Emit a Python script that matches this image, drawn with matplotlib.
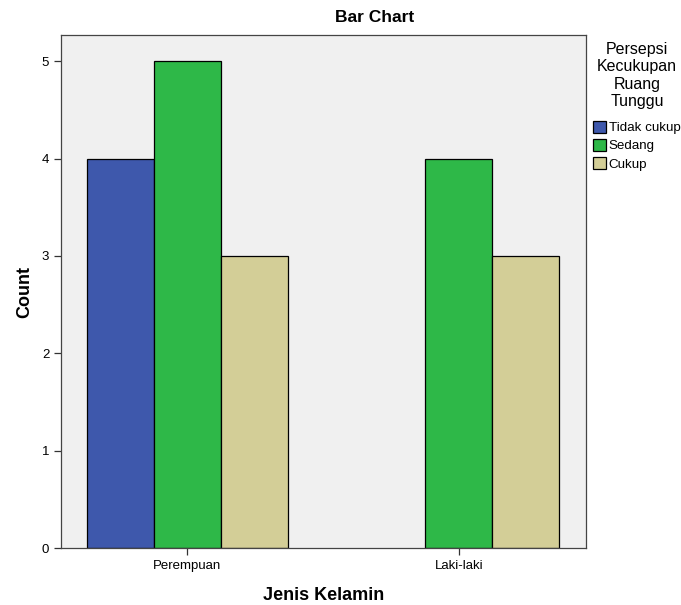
import numpy as np
import matplotlib.pyplot as plt
from matplotlib.patches import Patch

plt.rcParams["font.family"] = ["Liberation Sans", "DejaVu Sans"]

# data
genders = ["Perempuan", "Laki-laki"]
categories = ["Tidak cukup", "Sedang", "Cukup"]
tidak_cukup = [4, 0]
sedang = [5, 4]
cukup = [3, 3]
colors = ["#3E58AC", "#2EB848", "#D3CE97"]

fig = plt.figure(figsize=(6.81, 6.05), dpi=100)
ax = fig.add_axes([0.0896, 0.0942, 0.771, 0.8479])
ax.set_facecolor("#F0F0F0")

x = np.arange(len(genders))
width = 0.247
for i, (vals, col) in enumerate(zip([tidak_cukup, sedang, cukup], colors)):
    for xi, v in zip(x, vals):
        if v > 0:
            ax.bar(xi + (i - 1) * width, v, width, color=col,
                   edgecolor="black", linewidth=0.9, zorder=2)

ax.set_xlim(-0.465, 1.469)
ax.set_ylim(0, 5.27)
ax.set_yticks(range(6))
ax.set_xticks(x)
ax.set_xticklabels(genders, fontsize=9.5)
ax.tick_params(axis="y", labelsize=9.5, length=5, width=0.9, color="#333333")
ax.tick_params(axis="x", length=5, width=0.9, color="#333333")
for s in ax.spines.values():
    s.set_color("#444444")
    s.set_linewidth(0.9)

ax.set_xlabel("Jenis Kelamin", fontsize=13, fontweight="bold", labelpad=11)
ax.set_ylabel("Count", fontsize=13, fontweight="bold", labelpad=6)
fig.text(375 / 681, 1 - 18 / 605, "Bar Chart", ha="center", va="center",
         fontsize=12.5, fontweight="bold")

fig.text(637 / 681, 1 - 75.5 / 605, "Persepsi\nKecukupan\nRuang\nTunggu",
         ha="center", va="center", fontsize=11.5, linespacing=1.17)

handles = [Patch(facecolor=c, edgecolor="black", linewidth=0.9) for c in colors]
fig.legend(handles, categories, loc="upper left",
           bbox_to_anchor=(590 / 681, 1 - 118 / 605), frameon=False,
           fontsize=9.6, handlelength=1.0, handleheight=1.0,
           handletextpad=0.2, labelspacing=0.35, borderaxespad=0, borderpad=0.2)

fig.savefig("out.png", dpi=100)
